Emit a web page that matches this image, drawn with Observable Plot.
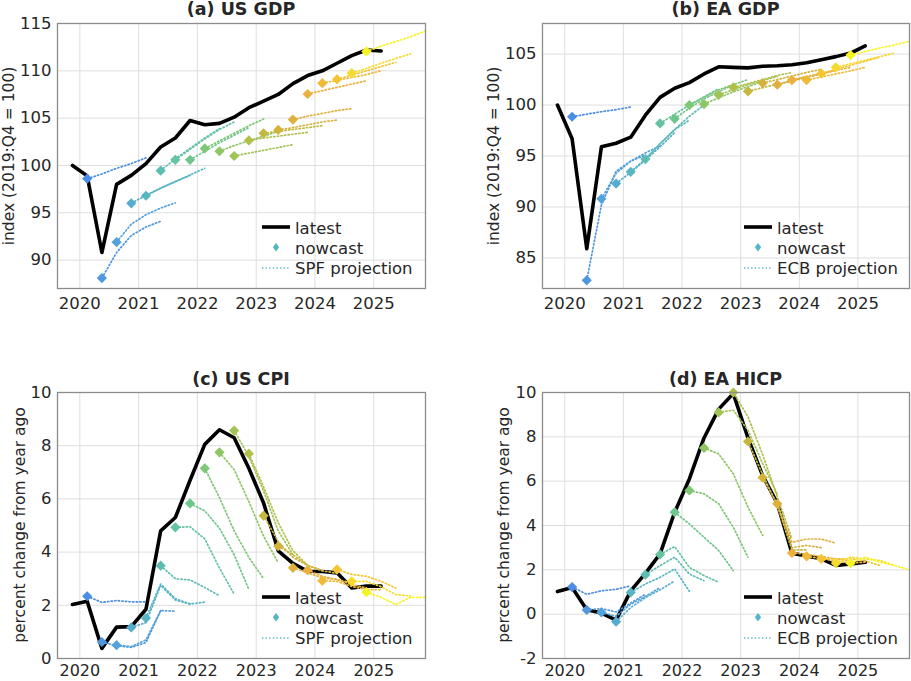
<!DOCTYPE html>
<html><head><meta charset="utf-8">
<script src="https://cdn.jsdelivr.net/npm/d3@7"></script>
<script src="https://cdn.jsdelivr.net/npm/@observablehq/plot@0.6"></script>
<style>
body{margin:0;background:#fff;}
#root{position:relative;width:911px;height:681px;overflow:hidden;font-family:"DejaVu Sans",sans-serif;color:#262626;}
.title{position:absolute;font-weight:bold;font-size:17.5px;line-height:20px;white-space:nowrap;transform:translateX(-50%);}
.ylab{position:absolute;font-size:15.5px;line-height:18px;white-space:nowrap;transform:translate(-50%,-50%) rotate(-90deg);}
.panel{position:absolute;}
</style></head>
<body><div id="root"></div>
<script>
// ---------- data ----------
const latestQuarters = ["2019Q4","2020Q1","2020Q2","2020Q3","2020Q4","2021Q1","2021Q2","2021Q3","2021Q4","2022Q1","2022Q2","2022Q3","2022Q4","2023Q1","2023Q2","2023Q3","2023Q4","2024Q1","2024Q2","2024Q3","2024Q4","2025Q1"];
const vintages = ["2020Q1","2020Q2","2020Q3","2020Q4","2021Q1","2021Q2","2021Q3","2021Q4","2022Q1","2022Q2","2022Q3","2022Q4","2023Q1","2023Q2","2023Q3","2023Q4","2024Q1","2024Q2","2024Q3","2024Q4"];
const xTicks = [2020, 2021, 2022, 2023, 2024, 2025];

const usGdpTicks = [90, 95, 100, 105, 110, 115];
const usGdpLatest = [100.0, 98.9, 90.8, 98.0, 98.95, 100.2, 101.95, 102.9, 104.75, 104.3, 104.45, 105.1, 106.1, 106.8, 107.5, 108.65, 109.5, 110.0, 110.8, 111.6, 112.2, 112.1];
const usGdpNowcast = [98.6, 88.1, 91.9, 96.0, 96.8, 99.45, 100.6, 100.6, 101.8, 101.5, 101.0, 102.65, 103.4, 103.75, 104.85, 107.55, 108.7, 109.1, 109.75, 112.05];
const usGdpProjection = [
  [99.1, 99.7, 100.2, 100.8],
  [90.8, 92.6, 93.5, 94.1],
  [93.8, 94.8, 95.5, 96.05],
  [96.85, 97.6, 98.3, 98.95],
  [97.6, 98.3, 99.0, 99.7],
  [100.7, 101.8, 102.9, 103.9],
  [101.7, 102.8, 103.8, 104.6],
  [101.5, 102.4, 103.2, 104.0],
  [102.6, 103.4, 104.2, 104.9],
  [102.1, 102.6, 103.1, 103.6],
  [101.3, 101.6, 101.9, 102.2],
  [102.9, 103.1, 103.3, 103.5],
  [103.6, 103.8, 104.0, 104.2],
  [104.0, 104.3, 104.6, 104.8],
  [105.2, 105.5, 105.8, 106.0],
  [107.9, 108.25, 108.6, 108.95],
  [109.0, 109.3, 109.6, 110.0],
  [109.55, 110.0, 110.45, 110.9],
  [110.25, 110.8, 111.3, 111.8],
  [112.6, 113.1, 113.6, 114.2]
];

const eaGdpTicks = [85, 90, 95, 100, 105];
const eaGdpLatest = [100.0, 96.7, 85.9, 95.9, 96.25, 96.85, 99.0, 100.75, 101.65, 102.2, 103.05, 103.75, 103.7, 103.65, 103.8, 103.85, 103.95, 104.15, 104.45, 104.75, 105.1, 105.8];
const eaGdpNowcast = [98.85, 82.8, 90.8, 92.3, 93.45, 94.7, 98.2, 98.65, 100.0, 100.1, 101.0, 101.73, 101.35, 102.15, 102.0, 102.45, 102.45, 103.1, 103.7, 104.9];
const eaGdpProjection = [
  [99.1, 99.35, 99.55, 99.8],
  [90.2, 93.5, 94.5, 95.1],
  [93.3, 94.5, 95.3, 96.0],
  [93.4, 94.6, 95.9, 97.3],
  [94.7, 96.2, 97.6, 98.5],
  [96.2, 97.6, 98.9, 100.0],
  [99.1, 100.0, 100.8, 101.6],
  [99.7, 100.6, 101.3, 102.0],
  [100.75, 101.5, 102.0, 102.5],
  [100.7, 101.3, 101.8, 102.3],
  [101.5, 102.0, 102.4, 102.8],
  [102.1, 102.5, 102.9, 103.2],
  [101.7, 102.05, 102.4, 102.8],
  [102.5, 102.85, 103.2, 103.5],
  [102.35, 102.7, 103.05, 103.4],
  [102.8, 103.1, 103.4, 103.7],
  [102.75, 103.05, 103.35, 103.7],
  [103.5, 103.9, 104.3, 104.7],
  [104.05, 104.4, 104.75, 105.1],
  [105.25, 105.6, 105.9, 106.25]
];

const usCpiTicks = [0, 2, 4, 6, 8, 10];
const usCpiLatest = [2.03, 2.15, 0.38, 1.18, 1.2, 1.85, 4.8, 5.3, 6.7, 8.05, 8.6, 8.3, 7.15, 5.85, 4.05, 3.58, 3.28, 3.27, 3.22, 2.65, 2.72, 2.72];
const usCpiNowcast = [2.34, 0.62, 0.5, 1.17, 1.52, 3.49, 4.93, 5.83, 7.15, 7.75, 8.57, 7.7, 5.37, 4.22, 3.41, 3.32, 2.92, 3.35, 2.9, 2.49];
const usCpiProjection = [
  [2.11, 2.18, 2.13, 2.13],
  [0.48, 0.42, 0.6, 1.8],
  [0.45, 0.7, 1.8, 1.78],
  [1.35, 2.75, 2.2, 2.05],
  [2.8, 2.25, 2.05, 2.12],
  [3.0, 2.95, 2.67, 2.36],
  [4.95, 4.5, 3.4, 2.42],
  [5.55, 4.9, 3.9, 2.6],
  [6.05, 4.8, 3.8, 3.0],
  [7.1, 5.9, 4.6, 3.6],
  [7.6, 6.3, 4.8, 3.9],
  [6.45, 5.1, 4.05, 3.5],
  [4.4, 3.8, 3.5, 3.3],
  [3.9, 3.5, 3.3, 3.2],
  [3.22, 3.03, 2.97, 2.84],
  [3.09, 2.97, 2.78, 2.65],
  [2.9, 2.71, 2.59, 2.59],
  [3.16, 3.09, 2.9, 2.65],
  [2.9, 2.7, 2.4, 2.35],
  [2.3, 2.03, 2.3, 2.3]
];

const eaHicpTicks = [-2, 0, 2, 4, 6, 8, 10];
const eaHicpLatest = [1.02, 1.2, 0.2, 0.05, -0.27, 1.05, 1.84, 2.72, 4.6, 6.1, 7.95, 9.25, 9.95, 7.95, 6.25, 5.0, 2.75, 2.62, 2.5, 2.2, 2.27, 2.34];
const eaHicpNowcast = [1.22, 0.19, 0.08, -0.34, 0.98, 1.78, 2.69, 4.6, 5.58, 7.5, 9.1, 10.0, 7.79, 6.16, 4.98, 2.76, 2.61, 2.49, 2.3, 2.3];
const eaHicpProjection = [
  [0.9, 1.05, 1.12, 1.28],
  [0.25, 0.1, 0.5, 0.9],
  [-0.1, 0.45, 0.8, 1.2],
  [0.3, 0.75, 1.1, 1.5],
  [1.36, 1.66, 2.04, 1.03],
  [2.19, 2.57, 1.81, 1.51],
  [3.05, 2.11, 1.74, 1.44],
  [4.07, 3.47, 2.87, 1.96],
  [5.43, 4.98, 3.92, 2.57],
  [7.23, 6.33, 4.83, 3.55],
  [9.2, 8.3, 6.8, 5.4],
  [8.9, 7.2, 5.3, 3.4],
  [6.3, 4.9, 2.9, 2.9],
  [4.97, 3.0, 3.1, 3.0],
  [3.24, 3.39, 3.39, 3.2],
  [2.7, 2.6, 2.5, 2.4],
  [2.5, 2.4, 2.3, 2.35],
  [2.5, 2.5, 2.4, 2.2],
  [2.57, 2.49, 2.42, 2.2],
  [2.57, 2.34, 2.2, 2.0]
];

// ---------- styles ----------
const colorStops = ["#4b8de3", "#55a3da", "#58b8c0", "#66c59a", "#84c86e", "#aac24c", "#d0b43c", "#eaae3e", "#f3c233", "#f7f425"];
const vintageColor = d3.piecewise(d3.interpolateRgb, colorStops);
const vintageColors = vintages.map((v, i) => vintageColor(i / (vintages.length - 1)));
const legendColor = "#57b6c3";
const FONT = "DejaVu Sans, sans-serif";
const DOTS = "1.3,2.3";

// ---------- helpers ----------
function qtime(label) { const y = +label.slice(0, 4), q = +label.slice(5); return y + (q - 1) / 4 + 0.125; }
function shiftQ(label, k) { let y = +label.slice(0, 4), q = +label.slice(5) - 1 + k; y += Math.floor(q / 4); q = ((q % 4) + 4) % 4; return y + "Q" + (q + 1); }

const root = document.getElementById("root");

function panel(cfg) {
  const latestRows = latestQuarters.map((q, i) => ({t: qtime(q), v: cfg.latest[i]}));
  const nowRows = vintages.map((q, i) => ({t: qtime(q), v: cfg.nowcast[i], vintage: q}));
  const projRows = [];
  vintages.forEach((q, i) => {
    projRows.push({t: qtime(q), v: cfg.nowcast[i], vintage: q});
    cfg.projection[i].forEach((val, k) => projRows.push({t: qtime(shiftQ(q, k + 1)), v: val, vintage: q}));
  });
  const chart = Plot.plot({
    width: cfg.width, height: cfg.height,
    marginLeft: cfg.ml, marginRight: cfg.mr, marginTop: cfg.mt, marginBottom: cfg.mb,
    style: {fontFamily: FONT, fontSize: "16.5px", color: "#262626", background: "transparent", overflow: "visible"},
    x: {domain: [2019.62, 2025.88]},
    y: {domain: cfg.domain},
    color: {type: "ordinal", domain: vintages, range: vintageColors},
    marks: [
      Plot.gridX(xTicks, {stroke: "#dedede", strokeOpacity: 1, strokeWidth: 1}),
      Plot.gridY(cfg.ticks, {stroke: "#dedede", strokeOpacity: 1, strokeWidth: 1}),
      Plot.line(latestRows, {x: "t", y: "v", stroke: "#000", strokeWidth: 3.6, clip: true}),
      Plot.line(projRows, {x: "t", y: "v", z: "vintage", stroke: "vintage", strokeWidth: 1.7, strokeDasharray: DOTS, clip: true}),
      Plot.dot(nowRows, {x: "t", y: "v", fill: "vintage", symbol: "diamond2", r: 4.6}),
      Plot.frame({stroke: "#8c8c8c", strokeWidth: 1.3}),
      Plot.axisX(xTicks, {tickSize: 0, tickPadding: cfg.xPad, fontSize: cfg.xFont, tickFormat: d => String(d), label: null}),
      Plot.axisY(cfg.ticks, {tickSize: 0, tickPadding: 6, tickFormat: d => String(d), label: null})
    ]
  });
  const wrap = document.createElement("div");
  wrap.className = "panel";
  wrap.style.left = cfg.left + "px";
  wrap.style.top = cfg.top + "px";
  wrap.appendChild(chart);
  root.appendChild(wrap);

  const t = document.createElement("div");
  t.className = "title"; t.textContent = cfg.title;
  t.style.left = cfg.titleX + "px"; t.style.top = cfg.titleY + "px";
  root.appendChild(t);

  const yl = document.createElement("div");
  yl.className = "ylab"; yl.textContent = cfg.ylabel;
  yl.style.left = cfg.ylabX + "px"; yl.style.top = cfg.ylabY + "px";
  root.appendChild(yl);

  const svg = d3.create("svg").attr("width", 175).attr("height", 72)
    .style("position", "absolute").style("left", cfg.legX + "px").style("top", cfg.legY + "px").style("overflow", "visible")
    .style("font-family", FONT).style("font-size", "16.5px");
  svg.append("line").attr("x1", 7).attr("x2", 35).attr("y1", 17).attr("y2", 17).attr("stroke", "#000").attr("stroke-width", 3.6);
  svg.append("path").attr("d", "M21,33 L24.2,37.3 L21,41.6 L17.8,37.3 Z").attr("fill", legendColor);
  svg.append("line").attr("x1", 7).attr("x2", 35).attr("y1", 58).attr("y2", 58).attr("stroke", legendColor).attr("stroke-width", 1.7).attr("stroke-dasharray", DOTS);
  const labels = ["latest", "nowcast", cfg.projLabel];
  [23.5, 44, 64].forEach((y, i) => svg.append("text").attr("x", 40).attr("y", y).attr("fill", "#262626").text(labels[i]));
  root.appendChild(svg.node());
}

panel({title: "(a) US GDP", ylabel: "index (2019:Q4 = 100)", projLabel: "SPF projection",
  latest: usGdpLatest, nowcast: usGdpNowcast, projection: usGdpProjection, ticks: usGdpTicks, domain: [87, 115],
  left: 0, top: 0, width: 430, height: 312, ml: 57, mr: 5, mt: 23, mb: 24, xPad: 9, xFont: 16.5,
  titleX: 241, titleY: -1, ylabX: 8.5, ylabY: 155.5, legX: 255, legY: 210});
panel({title: "(b) EA GDP", ylabel: "index (2019:Q4 = 100)", projLabel: "ECB projection",
  latest: eaGdpLatest, nowcast: eaGdpNowcast, projection: eaGdpProjection, ticks: eaGdpTicks, domain: [82, 108],
  left: 455, top: 0, width: 456, height: 312, ml: 87, mr: 2, mt: 23, mb: 24, xPad: 9, xFont: 16.5,
  titleX: 725.5, titleY: -1, ylabX: 493.5, ylabY: 155.5, legX: 737.3, legY: 210});
panel({title: "(c) US CPI", ylabel: "percent change from year ago", projLabel: "SPF projection",
  latest: usCpiLatest, nowcast: usCpiNowcast, projection: usCpiProjection, ticks: usCpiTicks, domain: [0, 10],
  left: 0, top: 369, width: 430, height: 312, ml: 57, mr: 5, mt: 23, mb: 23, xPad: 6.5, xFont: 16,
  titleX: 241, titleY: 368.5, ylabX: 20, ylabY: 525, legX: 255, legY: 579.7});
panel({title: "(d) EA HICP", ylabel: "percent change from year ago", projLabel: "ECB projection",
  latest: eaHicpLatest, nowcast: eaHicpNowcast, projection: eaHicpProjection, ticks: eaHicpTicks, domain: [-2, 10],
  left: 455, top: 369, width: 456, height: 312, ml: 87, mr: 2, mt: 23, mb: 23, xPad: 6.5, xFont: 16,
  titleX: 725.5, titleY: 368.5, ylabX: 504, ylabY: 525, legX: 737.3, legY: 579.7});
</script></body></html>
